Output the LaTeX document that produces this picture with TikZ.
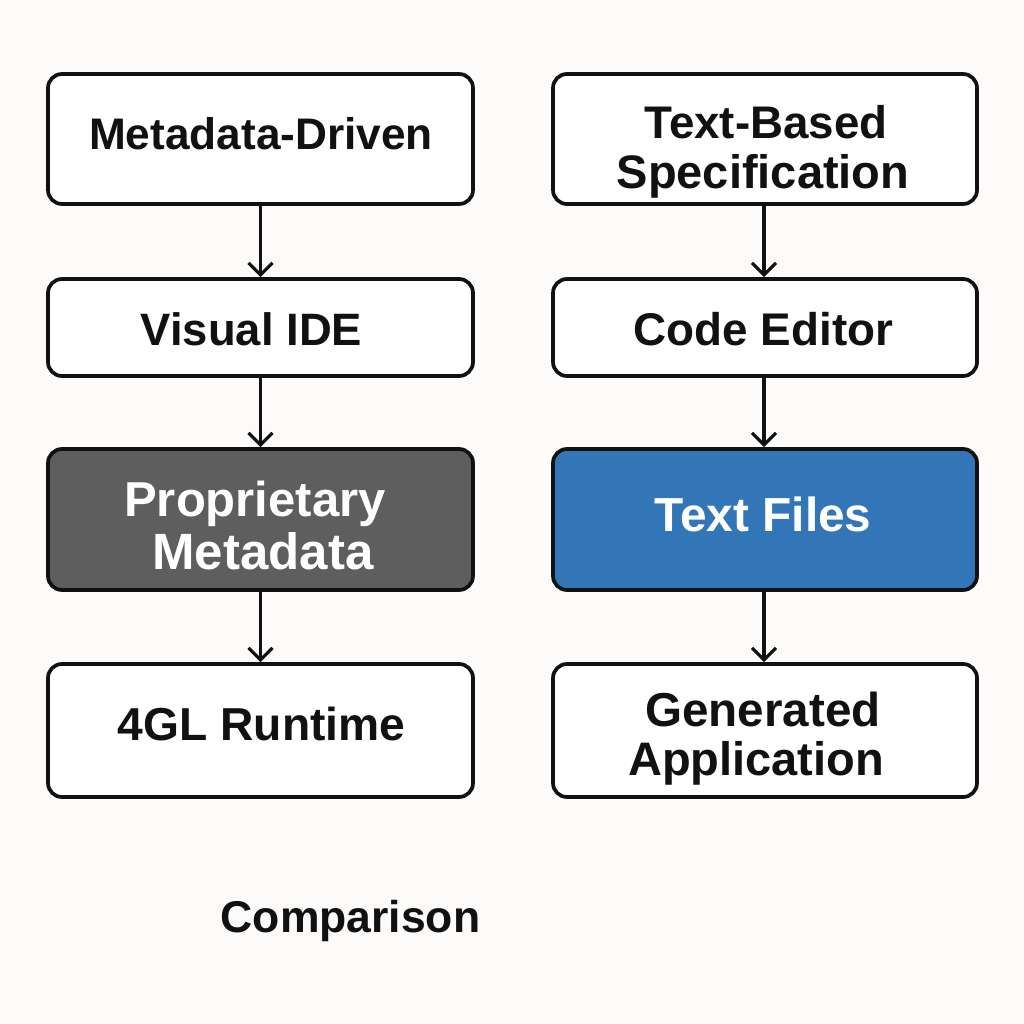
\documentclass[tikz,border=0pt]{standalone}
\usepackage{fontspec}
\setmainfont{Liberation Sans}
\usetikzlibrary{arrows.meta}
\definecolor{bgc}{HTML}{FCFBF9}
\definecolor{ink}{HTML}{111111}
\definecolor{greyf}{HTML}{5E5E5E}
\definecolor{bluef}{HTML}{3276B8}
\tikzset{x=1pt,y=-1pt,
 flowbox/.style={draw=ink,line width=3.7pt,rounded corners=14pt,fill=white,inner sep=0pt},
 darkbox/.style={flowbox,fill=greyf},
 bluebox/.style={flowbox,fill=bluef},
 link/.style={draw=ink,line width=3.2pt,-{Straight Barb[length=12pt,width=24pt,line width=3.2pt]}},
 dark/.style={text=ink,inner sep=0pt,font=\fontsize{#1}{50}\selectfont\bfseries},
 light/.style={dark=#1,text=white},
}
\newcommand{\mybox}[6]{\node[#1,minimum width=#3pt,minimum height=#4pt] (#2) at (#5,#6) {};}
\begin{document}
\begin{tikzpicture}
\useasboundingbox[fill=bgc] (0,0) rectangle (1024,1024);
\mybox{flowbox}{a}{425}{130}{260.5}{139}
\mybox{flowbox}{b}{425}{97}{260.5}{327.5}
\mybox{darkbox}{c}{425}{141}{260.5}{519.5}
\mybox{flowbox}{d}{425}{133}{260.5}{730.5}
\mybox{flowbox}{e}{424}{130}{765}{139}
\mybox{flowbox}{f}{424}{97}{765}{327.5}
\mybox{bluebox}{g}{424}{141}{765}{519.5}
\mybox{flowbox}{h}{424}{133}{765}{730.5}
\node[dark=44.2] (ta) at (261,134) {Metadata-Driven};
\node[dark=45.4] (tb) at (251.5,329) {Visual IDE};
\node[light=49] (tc) at (255,504) {Proprietary};
\node[light=51] (tc2) at (263,551) {Metadata};
\node[dark=46.2] (td) at (261.5,724) {4GL Runtime};
\node[dark=45.7] (te) at (766,122) {Text-Based};
\node[dark=47] (te2) at (763,176) {Specification};
\node[dark=45.8] (tf) at (763.5,329) {Code Editor};
\node[light=47.8] (tg) at (763,514) {Text Files};
\node[dark=47.6] (th) at (763,709) {Generated};
\node[dark=47] (th2) at (756,763) {Application};
\draw[link] (a) -- (b);
\draw[link] (b) -- (c);
\draw[link] (c) -- (d);
\draw[link] ([xshift=-1pt]e.south) -- ([xshift=-1pt]f.north);
\draw[link] ([xshift=-1pt]f.south) -- ([xshift=-1pt]g.north);
\draw[link] ([xshift=-1pt]g.south) -- ([xshift=-1pt]h.north);
\node[dark=44.5] (t) at (350.5,921) {Comparison};
\end{tikzpicture}
\end{document}
